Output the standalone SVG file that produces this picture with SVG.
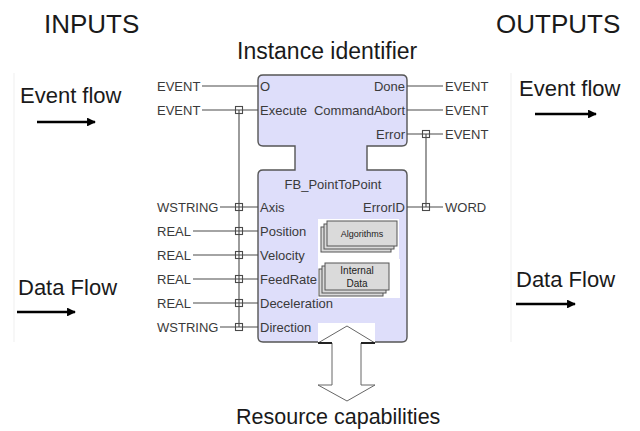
<svg xmlns="http://www.w3.org/2000/svg" width="640" height="431" viewBox="0 0 640 431">
<style>
.big{font-family:"Liberation Sans",Arial,sans-serif;fill:#1a1a1a}
.t{font-family:"Liberation Sans",Arial,sans-serif;font-size:13px;fill:#3a3a3a}
.small{font-family:"Liberation Sans",Arial,sans-serif;fill:#222}
.w{stroke:#4a4a4a;stroke-width:1.1;fill:none}
.sq{fill:none;stroke:#4a4a4a;stroke-width:1.1}
.flow{stroke:#000;stroke-width:2.6;fill:none}
.stk{fill:#dadada;stroke:#555;stroke-width:1}
</style>
<defs>
<marker id="ah" viewBox="0 0 10 10" refX="9" refY="5" markerWidth="3.4" markerHeight="3.4" orient="auto">
<path d="M0,0 L10,5 L0,10 Z" fill="#000"/>
</marker>
</defs>
<rect width="640" height="431" fill="#fff"/>
<line x1="14" y1="73" x2="14" y2="342" stroke="#efefef"/>
<line x1="511" y1="73" x2="511" y2="342" stroke="#efefef"/>

<g id="titles">
<text class="big" x="44" y="33" font-size="26">INPUTS</text>
<text class="big" x="496" y="33" font-size="26">OUTPUTS</text>
<text class="big" x="237" y="59" font-size="23">Instance identifier</text>
<text class="big" x="236" y="424" font-size="21.5">Resource capabilities</text>
</g>

<g id="legend-event-in">
<text class="big" x="20" y="103" font-size="22">Event flow</text>
<line class="flow" x1="37" y1="122" x2="95" y2="122" marker-end="url(#ah)"/>
</g>
<g id="legend-event-out">
<text class="big" x="519" y="96" font-size="22">Event flow</text>
<line class="flow" x1="535" y1="114" x2="596" y2="114" marker-end="url(#ah)"/>
</g>
<g id="legend-data-in">
<text class="big" x="18" y="295" font-size="22">Data Flow</text>
<line class="flow" x1="17" y1="312" x2="75" y2="312" marker-end="url(#ah)"/>
</g>
<g id="legend-data-out">
<text class="big" x="516" y="287" font-size="22">Data Flow</text>
<line class="flow" x1="516" y1="304" x2="575" y2="304" marker-end="url(#ah)"/>
</g>

<g id="fb-block">
<path d="M263 75 H402 Q407 75 407 80 V141 Q407 146 402 146 H367 V170 H402 Q407 170 407 175 V337 Q407 342 402 342 H263 Q258 342 258 337 V175 Q258 170 263 170 H295 V146 H263 Q258 146 258 141 V80 Q258 75 263 75 Z" fill="#dedefa" stroke="#555" stroke-width="1.4"/>
<text class="t" x="260" y="91">O</text>
<text class="t" x="405" y="91" text-anchor="end">Done</text>
<text class="t" x="260" y="115">Execute</text>
<text class="t" x="405" y="115" text-anchor="end">CommandAbort</text>
<text class="t" x="405" y="139" text-anchor="end">Error</text>
<text class="t" x="333" y="189" text-anchor="middle">FB_PointToPoint</text>
<text class="t" x="260" y="212">Axis</text>
<text class="t" x="405" y="212" text-anchor="end">ErrorID</text>
<text class="t" x="260" y="236">Position</text>
<text class="t" x="260" y="260">Velocity</text>
<text class="t" x="260" y="284">FeedRate</text>
<text class="t" x="260" y="308">Deceleration</text>
<text class="t" x="260" y="332">Direction</text>
</g>

<g id="algorithms">
<rect x="318" y="219" width="81" height="40" fill="#fff"/>
<rect class="stk" x="321" y="227" width="70" height="25"/>
<rect class="stk" x="324" y="224" width="70" height="25"/>
<rect class="stk" x="327" y="221" width="70" height="25"/>
<text class="small" x="362" y="237" font-size="9" text-anchor="middle">Algorithms</text>
</g>

<g id="internal-data">
<rect x="318" y="259" width="82" height="39" fill="#fff"/>
<rect class="stk" x="319" y="269" width="64" height="27"/>
<rect class="stk" x="322" y="266" width="64" height="27"/>
<rect class="stk" x="325" y="263" width="64" height="27"/>
<text class="small" x="357" y="274" font-size="10" text-anchor="middle">Internal</text>
<text class="small" x="357" y="287" font-size="10" text-anchor="middle">Data</text>
</g>

<g id="resource-arrow">
<rect x="318" y="323" width="57" height="19" fill="#fff"/>
<path d="M347 326 L375 343 L361 343 L361 385 L375 385 L347 401 L318 385 L332 385 L332 343 L318 343 Z" fill="#fff" stroke="#666" stroke-width="1"/>
<line x1="318" y1="343" x2="332" y2="343" stroke="#222" stroke-width="2"/>
<line x1="361" y1="343" x2="375" y2="343" stroke="#222" stroke-width="2"/>
</g>

<g id="inputs">
<text class="t" x="157" y="91">EVENT</text>
<text class="t" x="157" y="115">EVENT</text>
<text class="t" x="157" y="212">WSTRING</text>
<text class="t" x="157" y="236">REAL</text>
<text class="t" x="157" y="260">REAL</text>
<text class="t" x="157" y="284">REAL</text>
<text class="t" x="157" y="308">REAL</text>
<text class="t" x="157" y="332">WSTRING</text>
</g>

<g id="outputs">
<text class="t" x="445" y="91">EVENT</text>
<text class="t" x="445" y="115">EVENT</text>
<text class="t" x="445" y="139">EVENT</text>
<text class="t" x="445" y="212">WORD</text>
</g>

<g id="connectors">
<path class="w" d="M202 86 H258 M202 110 H258 M220 207 H258 M193 231 H258 M193 255 H258 M193 279 H258 M193 303 H258 M220 327 H258"/>
<path class="w" d="M239 110 V327"/>
<path class="w" d="M407 86 H443 M407 110 H443 M407 134 H443 M407 207 H443"/>
<path class="w" d="M426 134 V207"/>
<g class="sq">
<rect x="235.5" y="106.5" width="7" height="7"/>
<rect x="235.5" y="203.5" width="7" height="7"/>
<rect x="235.5" y="227.5" width="7" height="7"/>
<rect x="235.5" y="251.5" width="7" height="7"/>
<rect x="235.5" y="275.5" width="7" height="7"/>
<rect x="235.5" y="299.5" width="7" height="7"/>
<rect x="235.5" y="323.5" width="7" height="7"/>
<rect x="422.5" y="130.5" width="7" height="7"/>
<rect x="422.5" y="203.5" width="7" height="7"/>
</g>
</g>
</svg>
